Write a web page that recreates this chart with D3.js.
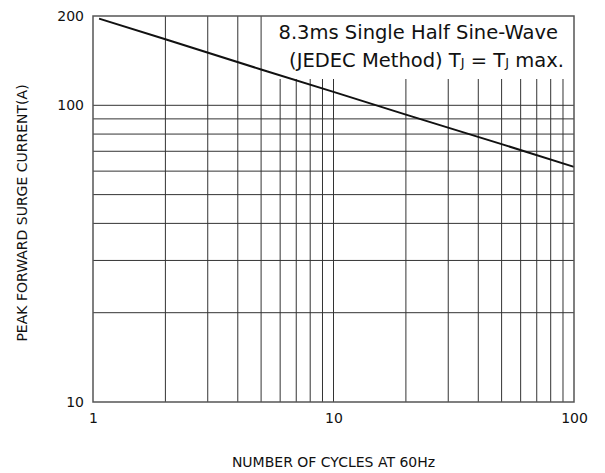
<!DOCTYPE html>
<html>
<head>
<meta charset="utf-8">
<script src="https://cdn.jsdelivr.net/npm/d3@7"></script>
<style>
  body { margin: 0; background: #fff; }
  text { font-family: Tahoma, "DejaVu Sans", Verdana, sans-serif; fill: #111; }
</style>
</head>
<body>
<svg width="605" height="473"></svg>
<script>
const cycles = [1.06, 2, 5, 10, 20, 50, 100];
const current = [196, 167, 132, 111, 93, 74, 62];

const xTicks = [1, 10, 100];
const yTicks = [10, 100, 200];
const xGrid = [2, 3, 4, 5, 6, 7, 8, 9, 10, 20, 30, 40, 50, 60, 70, 80, 90];
const yGrid = [20, 30, 40, 50, 60, 70, 80, 90, 100];

const svg = d3.select("svg");
const margin = { left: 93, right: 31, top: 16, bottom: 71 };
const width = 605 - margin.left - margin.right;
const height = 473 - margin.top - margin.bottom;

const x = d3.scaleLog().domain([1, 100]).range([0, width]);
const y = d3.scaleLog().domain([10, 200]).range([height, 0]);

const g = svg.append("g").attr("transform", `translate(${margin.left},${margin.top})`);

g.append("g")
  .selectAll("line")
  .data(yGrid)
  .enter()
  .append("line")
  .attr("x1", 0)
  .attr("x2", width)
  .attr("y1", d => y(d))
  .attr("y2", d => y(d))
  .attr("stroke", "#333")
  .attr("stroke-width", 1);

g.append("g")
  .selectAll("line")
  .data(xGrid)
  .enter()
  .append("line")
  .attr("x1", d => x(d))
  .attr("x2", d => x(d))
  .attr("y1", 0)
  .attr("y2", height)
  .attr("stroke", "#333")
  .attr("stroke-width", 1);

// white label box in the top right corner hides the grid
const boxLeft = 174;
const boxBottom = 63;
g.append("rect")
  .attr("x", boxLeft)
  .attr("y", 0)
  .attr("width", width - boxLeft)
  .attr("height", boxBottom)
  .attr("fill", "#fff");

const line = d3.line().x(d => x(d[0])).y(d => y(d[1]));
g.append("path")
  .datum(d3.zip(cycles, current))
  .attr("d", line)
  .attr("fill", "none")
  .attr("stroke", "#111")
  .attr("stroke-width", 2);

g.append("rect")
  .attr("width", width)
  .attr("height", height)
  .attr("fill", "none")
  .attr("stroke", "#555")
  .attr("stroke-width", 1.5);

const xAxis = g.append("g")
  .attr("transform", `translate(0,${height})`)
  .call(d3.axisBottom(x).tickValues(xTicks).tickFormat(d3.format("d")).tickSize(0).tickPadding(11));
xAxis.select(".domain").remove();
xAxis.selectAll("text").style("font-size", "14px").attr("fill", "#111");

const yAxis = g.append("g")
  .call(d3.axisLeft(y).tickValues(yTicks).tickFormat(d3.format("d")).tickSize(0).tickPadding(9));
yAxis.select(".domain").remove();
yAxis.selectAll("text").style("font-size", "14px").attr("fill", "#111");

const note = g.append("text")
  .attr("text-anchor", "end")
  .style("font-size", "19.5px");
note.append("tspan").attr("x", width - 16).attr("y", 23).text("8.3ms Single Half Sine-Wave");
const l2 = note.append("tspan").attr("x", width - 10).attr("y", 51);
l2.text("(JEDEC Method) T");
l2.append("tspan").style("font-size", "13px").text("J");
l2.append("tspan").text(" = T");
l2.append("tspan").style("font-size", "13px").text("J");
l2.append("tspan").text(" max.");

svg.append("text")
  .attr("x", margin.left + width / 2)
  .attr("y", 467)
  .attr("text-anchor", "middle")
  .style("font-size", "14px")
  .text("NUMBER OF CYCLES AT 60Hz");

svg.append("text")
  .attr("transform", "translate(27,213) rotate(-90)")
  .attr("text-anchor", "middle")
  .style("font-size", "14px")
  .text("PEAK FORWARD SURGE CURRENT(A)");
</script>
</body>
</html>
